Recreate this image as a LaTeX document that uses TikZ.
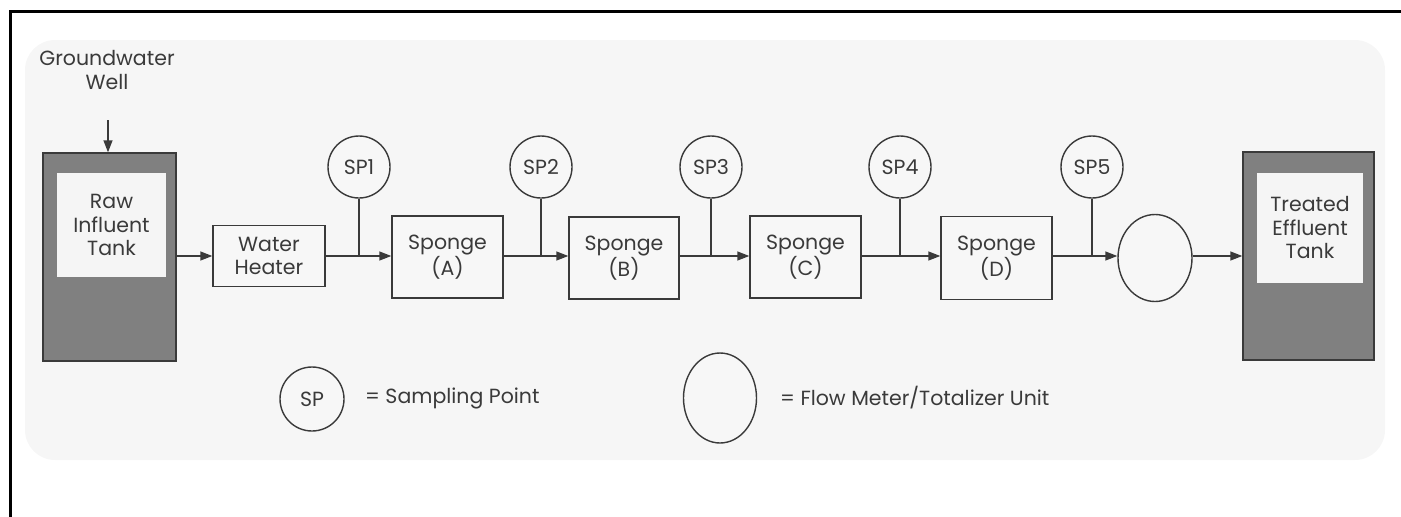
\documentclass[tikz,border=0pt]{standalone}
\usepackage{fontspec}
\setmainfont{Poppins}
\usetikzlibrary{arrows.meta,shapes.geometric}
\definecolor{ink}{HTML}{3A3A3A}
\tikzset{
  txt/.style={font=\fontsize{20.5}{23.5}\selectfont, text=ink, align=center, inner sep=0pt},
  box/.style={draw=ink, line width=1.4pt, rectangle, inner sep=0pt, fill=black!3, txt},
  tank/.style={draw=ink, line width=1.4pt, rectangle, fill=black!50, inner sep=0pt},
  tankin/.style={rectangle, fill=black!4, inner sep=0pt, txt},
  spc/.style={draw=ink, line width=1.4pt, circle, minimum size=62pt, inner sep=0pt, fill=black!3, txt},
  meterc/.style={draw=ink, line width=1.4pt, ellipse, inner sep=0pt, fill=black!3},
  flow/.style={draw=ink, line width=1.4pt, -{Triangle[length=12pt,width=9pt]}},
  tap/.style={draw=ink, line width=1.4pt},
}
\begin{document}
\begin{tikzpicture}[x=1pt,y=-1pt]
\useasboundingbox (0,0) rectangle (1401,517);
% light speckled background
\fill[black!3.5, rounded corners=30pt] (25,40) rectangle (1385,460);
% frame (only top and left visible)
\draw[line width=3pt, black] (10,517) -- (10,11) -- (1401,11);

% tanks
\node[tank, minimum width=133pt, minimum height=208pt] (raw) at (109.5,257) {};
\node[tankin, minimum width=109pt, minimum height=104pt] (rawin) at (111.5,225) {Raw\\Influent\\Tank};
\node[tank, minimum width=131pt, minimum height=208pt] (treated) at (1308.5,256) {};
\node[tankin, minimum width=106pt, minimum height=110pt] (treatedin) at (1310,228) {Treated\\Effluent\\Tank};

% well
\node[txt] (well) at (107,70) {Groundwater\\Well};
\coordinate (wellin) at (108,120);
\draw[flow] (wellin) -- (raw.north -| wellin);

% process units
\node[box, minimum width=112pt, minimum height=61pt] (heater) at (269,256) {Water\\Heater};
\node[box, minimum width=111pt, minimum height=82pt] (spA) at (447.5,257) {Sponge\\(A)};
\node[box, minimum width=110pt, minimum height=82pt] (spB) at (624,258) {Sponge\\(B)};
\node[box, minimum width=111pt, minimum height=82pt] (spC) at (805.5,257) {Sponge\\(C)};
\node[box, minimum width=111pt, minimum height=83pt] (spD) at (996.5,258) {Sponge\\(D)};
\node[meterc, minimum width=74pt, minimum height=87pt] (meter) at (1155,258) {};

% sampling points
\node[spc] (sp1) at (359,167) {SP1};
\node[spc] (sp2) at (541,167) {SP2};
\node[spc] (sp3) at (711,167) {SP3};
\node[spc] (sp4) at (900,167) {SP4};
\node[spc] (sp5) at (1092,167) {SP5};

% flow line
\draw[flow] (raw.east |- heater.west) -- (heater.west);
\draw[flow] (heater.east) -- (heater.east -| spA.west);
\draw[flow] (spA.east |- heater.east) -- (heater.east -| spB.west);
\draw[flow] (spB.east |- heater.east) -- (heater.east -| spC.west);
\draw[flow] (spC.east |- heater.east) -- (heater.east -| spD.west);
\draw[flow] (spD.east |- heater.east) -- (heater.east -| meter.west);
\draw[flow] (meter.east |- heater.east) -- (heater.east -| treated.west);

% taps
\draw[tap] (sp1.south) -- (sp1.south |- heater.east);
\draw[tap] (sp2.south) -- (sp2.south |- heater.east);
\draw[tap] (sp3.south) -- (sp3.south |- heater.east);
\draw[tap] (sp4.south) -- (sp4.south |- heater.east);
\draw[tap] (sp5.south) -- (sp5.south |- heater.east);

% legend
\node[spc, minimum size=64pt] (lsp) at (312,399) {SP};
\node[txt, anchor=west] (lsptxt) at (365,398) {= Sampling Point};
\node[meterc, minimum width=73pt, minimum height=90pt] (lmeter) at (720,398) {};
\node[txt, anchor=west] (lmetertxt) at (780,398) {= Flow Meter/Totalizer Unit};
\end{tikzpicture}
\end{document}
